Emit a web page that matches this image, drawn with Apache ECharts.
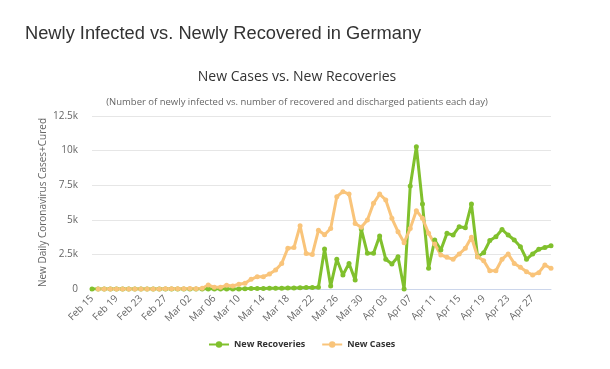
<!DOCTYPE html>
<html>
<head>
<meta charset="utf-8">
<script src="https://cdn.jsdelivr.net/npm/echarts@6/dist/echarts.min.js"></script>
<style>
html,body{margin:0;padding:0;background:#fff;}
#chart{width:610px;height:369px;}
</style>
</head>
<body>
<div id="chart"></div>
<script>
var dates = [
 "Feb 15","Feb 16","Feb 17","Feb 18","Feb 19","Feb 20","Feb 21","Feb 22","Feb 23","Feb 24",
 "Feb 25","Feb 26","Feb 27","Feb 28","Feb 29","Mar 01","Mar 02","Mar 03","Mar 04","Mar 05",
 "Mar 06","Mar 07","Mar 08","Mar 09","Mar 10","Mar 11","Mar 12","Mar 13","Mar 14","Mar 15",
 "Mar 16","Mar 17","Mar 18","Mar 19","Mar 20","Mar 21","Mar 22","Mar 23","Mar 24","Mar 25",
 "Mar 26","Mar 27","Mar 28","Mar 29","Mar 30","Mar 31","Apr 01","Apr 02","Apr 03","Apr 04",
 "Apr 05","Apr 06","Apr 07","Apr 08","Apr 09","Apr 10","Apr 11","Apr 12","Apr 13","Apr 14",
 "Apr 15","Apr 16","Apr 17","Apr 18","Apr 19","Apr 20","Apr 21","Apr 22","Apr 23","Apr 24",
 "Apr 25","Apr 26","Apr 27","Apr 28","Apr 29","Apr 30"
];

var newRecoveries = [
 0,0,0,0,0,0,0,0,0,0,
 0,0,0,0,0,0,0,0,0,0,
 0,0,0,0,0,20,30,40,40,50,
 60,60,70,80,90,100,110,120,2890,220,
 2150,1010,1850,650,4330,2580,2580,3830,2150,1810,
 2330,0,7440,10280,6140,1500,3540,2820,4020,3900,
 4500,4420,6140,2330,2620,3500,3780,4300,3900,3540,
 3060,2150,2530,2870,3000,3130
];

var newCases = [
 null,0,0,0,0,0,0,0,0,0,
 2,8,15,20,15,10,30,25,50,290,
 120,120,270,220,340,410,700,890,890,1080,
 1370,1850,2940,2990,4570,2560,2500,4240,3920,4370,
 6670,7030,6860,4740,4460,4990,6190,6860,6430,5110,
 4140,3350,4380,5660,5110,4020,3250,2460,2290,2150,
 2530,2940,3740,2330,2050,1320,1320,2150,2530,1850,
 1570,1250,1010,1180,1730,1500
];

var yTicks = [0, 2500, 5000, 7500, 10000, 12500];
var yTickLabels = ["0", "2.5k", "5k", "7.5k", "10k", "12.5k"];

var chart = echarts.init(document.getElementById('chart'), null, {renderer: 'canvas'});
var font = '"Open Sans", "DejaVu Sans", sans-serif';
chart.setOption({
  animation: false,
  backgroundColor: '#ffffff',
  title: [
    {text: 'Newly Infected vs. Newly Recovered in Germany', left: 20, top: 20,
     textStyle: {fontFamily: '"Liberation Sans", Arial, sans-serif', fontSize: 18.3, fontWeight: 'normal', color: '#333333'}},
    {text: 'New Cases vs. New Recoveries', left: 292, top: 65, textAlign: 'center',
     textStyle: {fontFamily: font, fontSize: 14, fontWeight: 'normal', color: '#333333'}},
    {text: '(Number of newly infected vs. number of recovered and discharged patients each day)', left: 292, top: 92, textAlign: 'center',
     textStyle: {fontFamily: font, fontSize: 9.5, fontWeight: 'normal', color: '#666666'}}
  ],
  legend: {
    top: 335, left: 203,
    itemWidth: 20, itemHeight: 8, itemGap: 16,
    textStyle: {fontFamily: font, fontSize: 9, fontWeight: 'bold', color: '#333333'},
    data: ['New Recoveries', 'New Cases']
  },
  grid: {left: 92, right: 59, top: 116, bottom: 80},
  xAxis: {
    type: 'category', data: dates, boundaryGap: false,
    axisLine: {lineStyle: {color: '#ccd6eb'}},
    axisTick: {show: false},
    axisLabel: {interval: 3, rotate: 45, fontFamily: font, fontSize: 10, color: '#666666', margin: 8}
  },
  yAxis: {
    type: 'value', min: 0, max: 12500, interval: 2500,
    axisLine: {show: false}, axisTick: {show: false},
    splitLine: {lineStyle: {color: '#e6e6e6'}},
    axisLabel: {fontFamily: font, fontSize: 10, color: '#666666', margin: 14,
      formatter: function (v) { var k = yTicks.indexOf(v); return k >= 0 ? yTickLabels[k] : ''; }},
    name: 'New Daily Coronavirus Cases+Cured', nameLocation: 'middle', nameGap: 44,
    nameMoveOverlap: false,
    nameTextStyle: {fontFamily: font, fontSize: 10, color: '#666666'}
  },
  series: [
    {name: 'New Recoveries', type: 'line', data: newRecoveries, symbol: 'circle', symbolSize: 5,
     showAllSymbol: true,
     color: '#80c02d', lineStyle: {width: 3}, itemStyle: {color: '#80c02d'}},
    {name: 'New Cases', type: 'line', data: newCases, symbol: 'circle', symbolSize: 5,
     showAllSymbol: true,
     color: '#f9c47a', lineStyle: {width: 3}, itemStyle: {color: '#f9c47a'}}
  ]
});
</script>
</body>
</html>
